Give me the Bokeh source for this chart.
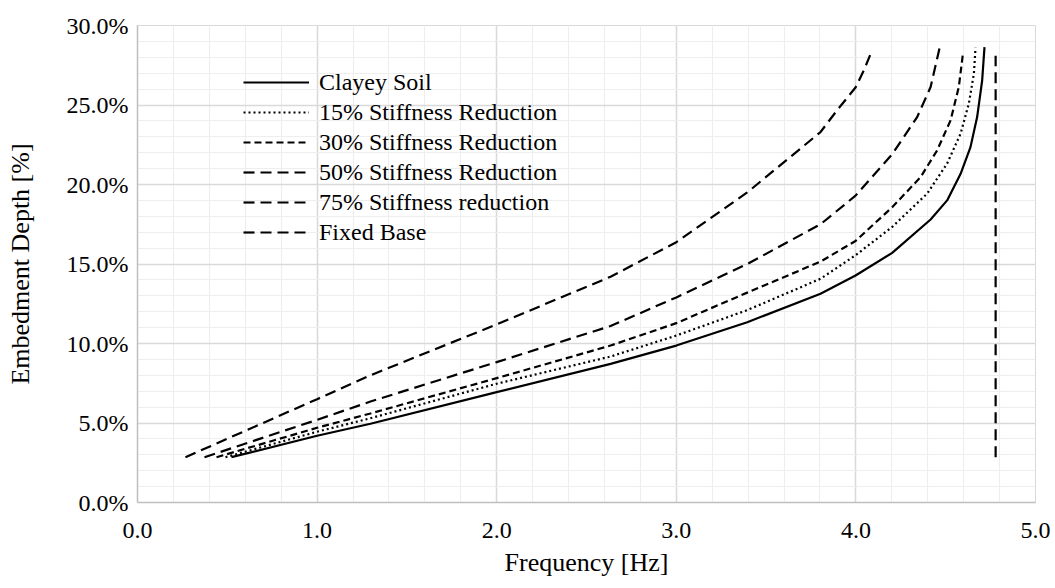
from bokeh.plotting import figure
from bokeh.models import FixedTicker, PrintfTickFormatter, Legend, LegendItem
from bokeh.embed import file_html
from bokeh.resources import INLINE

# Frequency [Hz] and embedment depth [%]
clay_f = [0.523, 1.0, 1.297, 2.0, 2.634, 3.0, 3.395, 3.803, 3.998, 4.202, 4.416, 4.508, 4.583, 4.638, 4.675, 4.703, 4.716]
clay_d = [2.85, 4.2, 4.95, 6.94, 8.72, 9.87, 11.34, 13.13, 14.28, 15.7, 17.8, 19.0, 20.67, 22.35, 24.24, 26.54, 28.64]

s15_f = [0.49, 1.0, 1.297, 2.0, 2.634, 3.0, 3.395, 3.803, 3.998, 4.202, 4.397, 4.508, 4.583, 4.629, 4.657, 4.666]
s15_d = [2.85, 4.45, 5.3, 7.47, 9.18, 10.5, 12.1, 14.07, 15.55, 17.33, 19.43, 21.32, 23.2, 25.1, 26.97, 28.6]

s30_f = [0.44, 1.0, 1.297, 2.0, 2.634, 3.0, 3.395, 3.803, 3.998, 4.202, 4.36, 4.452, 4.527, 4.573, 4.597]
s30_d = [2.85, 4.7, 5.6, 7.82, 9.87, 11.28, 13.2, 15.15, 16.45, 18.57, 20.46, 22.14, 24.03, 26.13, 28.33]

s50_f = [0.373, 1.0, 1.297, 2.0, 2.634, 3.0, 3.395, 3.803, 3.998, 4.202, 4.341, 4.416, 4.467]
s50_d = [2.85, 5.2, 6.35, 8.83, 11.1, 12.9, 15.0, 17.5, 19.3, 21.9, 24.24, 26.13, 28.64]

s75_f = [0.267, 1.0, 1.297, 2.0, 2.634, 3.0, 3.395, 3.803, 3.896, 3.998, 4.045, 4.085]
s75_d = [2.85, 6.5, 8.0, 11.2, 14.2, 16.37, 19.5, 23.3, 24.68, 26.1, 27.2, 28.3]

fixed_f = [4.778, 4.778]
fixed_d = [2.85, 28.1]

x_ticks = [0, 1, 2, 3, 4, 5]
y_ticks = [0, 5, 10, 15, 20, 25, 30]

FONT = "Liberation Serif"

p = figure(width=1055, height=588, output_backend="svg", toolbar_location=None,
           x_range=(0, 5), y_range=(0, 30),
           min_border_left=137, min_border_right=20, min_border_top=25, min_border_bottom=86)

p.outline_line_color = "#d9d9d9"
p.outline_line_width = 1
p.background_fill_color = "white"

p.xaxis.ticker = FixedTicker(ticks=x_ticks, minor_ticks=[i * 0.2 for i in range(26)])
p.yaxis.ticker = FixedTicker(ticks=y_ticks, minor_ticks=list(range(31)))
p.xaxis.formatter = PrintfTickFormatter(format="%.1f")
p.yaxis.formatter = PrintfTickFormatter(format="%.1f%%")

for ax in (p.xaxis, p.yaxis):
    ax.axis_line_color = "#bfbfbf"
    ax.axis_line_width = 1.5
    ax.major_tick_line_color = None
    ax.minor_tick_line_color = None
    ax.major_tick_out = 0
    ax.minor_tick_out = 0
    ax.major_label_text_font = FONT
    ax.major_label_text_font_size = "24px"
    ax.major_label_text_color = "black"
    ax.axis_label_text_font = FONT
    ax.axis_label_text_font_size = "26px"
    ax.axis_label_text_font_style = "normal"
    ax.axis_label_text_color = "black"

p.xaxis.axis_label = "Frequency [Hz]"
p.yaxis.axis_label = "Embedment Depth [%]"
p.xaxis.major_label_standoff = 20
p.xaxis.axis_label_standoff = 7
p.yaxis.major_label_standoff = 9
p.yaxis.axis_label_standoff = 29

for g in (p.xgrid, p.ygrid):
    g.grid_line_color = "#d9d9d9"
    g.grid_line_width = 1.5
    g.minor_grid_line_color = "#eeeeee"
    g.minor_grid_line_width = 1.2

lw = 2.2
r1 = p.line(clay_f, clay_d, line_color="black", line_width=lw)
r2 = p.line(s15_f, s15_d, line_color="black", line_width=lw, line_dash="2 3")
r3 = p.line(s30_f, s30_d, line_color="black", line_width=lw, line_dash="7 4")
r4 = p.line(s50_f, s50_d, line_color="black", line_width=lw, line_dash="11 6")
r5 = p.line(s75_f, s75_d, line_color="black", line_width=lw, line_dash="11 6")
r6 = p.line(fixed_f, fixed_d, line_color="black", line_width=lw, line_dash="11 6")

legend = Legend(items=[
    LegendItem(label="Clayey Soil", renderers=[r1]),
    LegendItem(label="15% Stiffness Reduction", renderers=[r2]),
    LegendItem(label="30% Stiffness Reduction", renderers=[r3]),
    LegendItem(label="50% Stiffness Reduction", renderers=[r4]),
    LegendItem(label="75% Stiffness reduction", renderers=[r5]),
    LegendItem(label="Fixed Base", renderers=[r6]),
], location=(106, 255))
legend.border_line_color = None
legend.background_fill_alpha = 0
legend.padding = 0
legend.margin = 0
legend.spacing = 0
legend.glyph_width = 66
legend.glyph_height = 30
legend.label_height = 30
legend.label_standoff = 10
legend.label_text_font = FONT
legend.label_text_font_size = "24px"
legend.label_text_color = "black"
p.add_layout(legend, "center")

open("out.html", "w").write(file_html(p, INLINE))
